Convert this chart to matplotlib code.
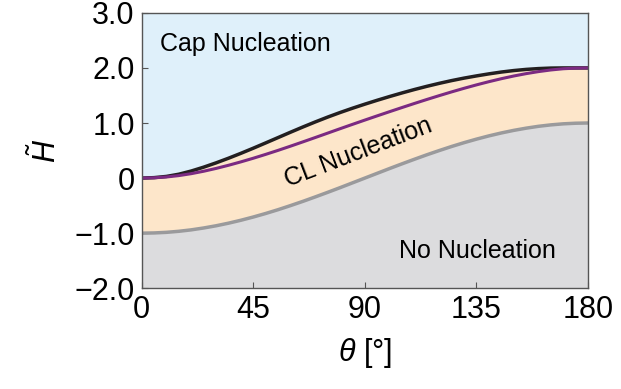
import numpy as np
import matplotlib
matplotlib.use("Agg")
import matplotlib.pyplot as plt

plt.rcParams['font.family'] = ['Liberation Sans', 'DejaVu Sans']
plt.rcParams['mathtext.fontset'] = 'custom'
plt.rcParams['mathtext.it'] = 'Liberation Sans:italic'
plt.rcParams['mathtext.rm'] = 'Liberation Sans'

# Data
theta = list(range(0, 181, 5))
cap_boundary = [0, 0.008, 0.030, 0.070, 0.128, 0.198, 0.276, 0.360, 0.449,
                0.542, 0.638, 0.735, 0.832, 0.927, 1.019, 1.107, 1.190,
                1.268, 1.342, 1.413, 1.481, 1.546, 1.608, 1.666, 1.720,
                1.770, 1.815, 1.855, 1.892, 1.925, 1.952, 1.973, 1.988,
                1.997, 2.0, 2.0, 2.0]
cl_curve = [0, 0.005, 0.020, 0.045, 0.080, 0.124, 0.175, 0.232, 0.294,
            0.360, 0.430, 0.503, 0.579, 0.657, 0.736, 0.816, 0.896, 0.975,
            1.053, 1.130, 1.206, 1.281, 1.355, 1.427, 1.497, 1.565, 1.630,
            1.692, 1.750, 1.804, 1.853, 1.896, 1.933, 1.963, 1.985, 1.996,
            2.0]
no_boundary = [-1, -0.996, -0.985, -0.966, -0.94, -0.906, -0.866, -0.819,
               -0.766, -0.707, -0.643, -0.574, -0.5, -0.423, -0.342, -0.259,
               -0.174, -0.087, 0, 0.087, 0.174, 0.259, 0.342, 0.423, 0.5,
               0.574, 0.643, 0.707, 0.766, 0.819, 0.866, 0.906, 0.94, 0.966,
               0.985, 0.996, 1.0]
x_ticks = [0, 45, 90, 135, 180]
y_ticks = [-2, -1, 0, 1, 2, 3]
y_tick_labels = ['\u22122.0', '\u22121.0', '0', '1.0', '2.0', '3.0']

fig = plt.figure(figsize=(6.21, 3.89), dpi=100)
ax = fig.add_axes([0.228, 0.259, 0.719, 0.708])

ymin, ymax = -2, 3
ax.fill_between(theta, cap_boundary, ymax, color='#dff0fa', lw=0)
ax.fill_between(theta, no_boundary, cap_boundary, color='#fde6ca', lw=0)
ax.fill_between(theta, ymin, no_boundary, color='#dcdcde', lw=0)

ax.plot(theta, no_boundary, color='#9a9a9c', lw=2.5, solid_capstyle='butt')
ax.plot(theta, cap_boundary, color='#231f20', lw=2.5, solid_capstyle='butt')
ax.plot(theta, cl_curve, color='#7b2a82', lw=2.2, solid_capstyle='butt')

ax.set_xlim(0, 180)
ax.set_ylim(ymin, ymax)
ax.set_xticks(x_ticks)
ax.set_xticklabels([str(t) for t in x_ticks])
ax.set_yticks(y_ticks)
ax.set_yticklabels(y_tick_labels)
ax.tick_params(direction='in', length=4, width=0.8, color='#555555',
               labelsize=22, pad=5)
for s in ax.spines.values():
    s.set_color('#555555')
    s.set_linewidth(1.0)

ax.set_xlabel(r'$\theta$ [°]', fontsize=22, labelpad=8)
ax.set_ylabel(r'$\tilde{H}$', fontsize=22, labelpad=8)

ax.text(7.4, 2.44, 'Cap Nucleation', fontsize=18, va='center', ha='left')
ax.text(167, -1.32, 'No Nucleation', fontsize=18, va='center', ha='right')
ax.text(87.5, 0.47, 'CL Nucleation', fontsize=18, va='center', ha='center',
        rotation=21, rotation_mode='anchor')

fig.savefig('out.png', dpi=100)
